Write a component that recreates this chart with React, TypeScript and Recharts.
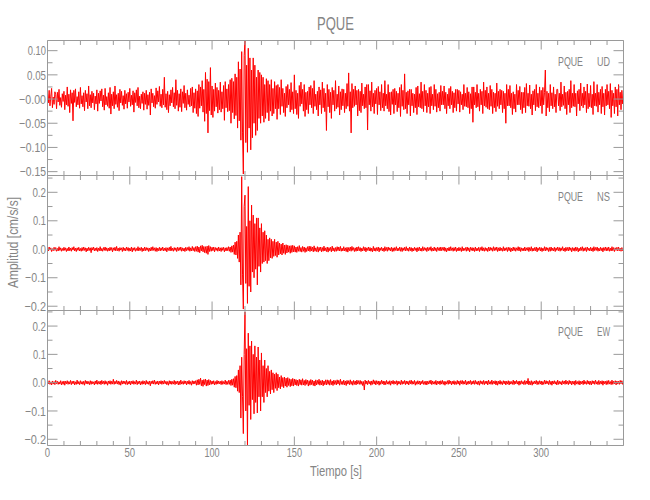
import { LineChart, Line, XAxis, YAxis } from 'recharts';

// Acceleration, one sample every 0.5 s from t = 0 to t = 350 s (cm/s/s)
const SAMPLE_STEP = 0.5;

const UD = [
  .012, -.008, .018, -.014, .006, .022, -.018, .004, -.011, .015, .009, -.02, .014, -.006, .02, -.013, .003, -.017, .011, -.005,
  .016, -.022, .008, -.012, .025, -.015, .01, -.028, .019, -.009, .013, -.045, .018, -.007, .021, -.016, .005, -.012, .015, -.019,
  .024, -.01, .007, -.016, .013, -.024, .018, -.006, .011, -.02, .027, -.014, .009, -.018, .016, -.008, .012, -.022, .006, -.01,
  .019, -.025, .012, -.009, .017, -.004, .021, -.016, .008, -.023, .022, -.012, .005, -.015, .013, -.019, .024, -.031, .01, -.014,
  .015, -.02, .027, -.011, .009, -.017, .012, -.024, .02, -.008, .016, -.013, .007, -.021, .018, -.01, .011, -.019, .014, -.006,
  .022, -.015, .008, -.012, .017, -.027, .013, -.007, .019, -.014, .024, -.018, .006, -.02, .01, -.009, .015, -.023, .012, -.011,
  .018, -.021, .009, -.013, .014, -.033, .021, -.008, .012, -.016, .007, -.019, .023, -.011, .017, -.006, .026, -.015, .01, -.018,
  .02, -.012, .045, -.017, .011, -.022, .016, -.028, .009, -.014, .019, -.008, .024, -.016, .013, -.02, .04, -.013, .018, -.025,
  .011, -.017, .021, -.026, .015, -.009, .028, -.018, .012, -.023, .019, -.011, .008, -.016, .022, -.014, .025, -.028, .013, -.019,
  .021, -.03, .017, -.036, .03, -.019, .025, -.014, .038, -.027, .02, -.046, .055, -.03, .041, -.07, .036, -.024, .065, -.033,
  .027, -.038, .02, -.025, .033, -.016, .024, -.029, .018, -.022, .035, -.027, .015, -.02, .028, -.044, .036, -.018, .021, -.026,
  .03, -.024, .04, -.05, .043, -.028, .036, -.041, .052, -.034, .045, -.06, .077, -.045, .062, -.085, .098, -.07, -.155, .09,
  .12, -.09, .07, -.11, .105, -.06, .085, -.105, .06, -.08, .085, -.05, .07, -.075, .045, -.065, .06, -.04, .055, -.05,
  .05, -.035, .045, -.048, .03, -.04, .042, -.028, .038, -.045, .03, -.025, .04, -.035, .022, -.03, .036, -.02, .028, -.042,
  .03, -.02, .024, -.032, .04, -.015, .022, -.028, .012, -.036, .026, -.018, .03, -.012, .02, -.027, .034, -.022, .015, -.03,
  .05, -.02, .018, -.032, .012, -.04, .028, -.015, .035, -.01, .02, -.025, .03, -.036, .014, -.022, .016, -.03, .025, -.012,
  .028, -.018, .022, -.03, .038, -.015, .01, -.022, .016, -.035, .025, -.012, .019, -.03, .035, -.018, .022, -.026, .012, -.065,
  .03, -.016, .02, -.028, .014, -.04, .024, -.012, .018, -.025, .038, -.02, .01, -.017, .027, -.033, .015, -.022, .021, -.014,
  .02, -.028, .012, -.02, .032, -.015, .054, -.025, .015, -.07, .032, -.018, .02, -.015, .027, -.012, .018, -.035, .02, -.024,
  .016, -.028, .033, -.014, .01, -.02, .025, -.018, .03, -.064, .03, -.012, .017, -.025, .035, -.016, .012, -.03, .018, -.01,
  .022, -.032, .026, -.012, .015, -.024, .03, -.018, .012, -.025, .038, -.014, .01, -.02, .03, -.026, .014, -.033, .015, -.011,
  .02, -.03, .022, -.012, .016, -.026, .012, -.018, .024, -.036, .03, -.015, .018, -.022, .052, -.02, .014, -.03, .017, -.012,
  .02, -.035, .02, -.014, .012, -.028, .01, -.018, .024, -.032, .027, -.016, .011, -.018, .035, -.02, .016, -.026, .03, -.014,
  .018, -.028, .012, -.016, .024, -.03, .026, -.014, .01, -.022, .03, -.015, .02, -.027, .011, -.018, .014, -.025, .028, -.012,
  .016, -.012, .027, -.02, .014, -.03, .01, -.014, .022, -.02, .026, -.012, .016, -.028, .013, -.018, .02, -.025, .02, -.01,
  .018, -.027, .015, -.012, .01, -.022, .03, -.015, .012, -.016, .024, -.018, .015, -.03, .011, -.02, .025, -.048, .025, -.012,
  .014, -.018, .03, -.016, .012, -.025, .02, -.012, .016, -.03, .035, -.014, .018, -.017, .025, -.02, .012, -.022, .028, -.015,
  .02, -.03, .014, -.018, .012, -.026, .033, -.015, .016, -.02, .02, -.012, .018, -.028, .016, -.02, .012, -.05, .03, -.014,
  .02, -.014, .028, -.018, .012, -.032, .015, -.02, .01, -.027, .03, -.012, .018, -.012, .026, -.022, .014, -.03, .014, -.018,
  .024, -.028, .032, -.014, .012, -.015, .029, -.02, .01, -.033, .017, -.012, .02, -.024, .03, -.016, .012, -.018, .025, -.014,
  .018, -.03, .024, -.012, .014, .06, -.035, .016, -.018, .012, -.026, .03, -.014, .013, -.02, .025, -.016, .01, -.028, .02,
  .02, -.014, .012, -.024, .035, -.016, .01, -.013, .027, -.02, .014, -.032, .016, -.012, .02, -.028, .038, -.018, .012, -.015,
  .03, -.016, .012, -.035, .017, -.01, .02, -.024, .033, -.014, .012, -.018, .025, -.012, .016, -.028, .031, -.02, .012, -.016,
  .028, -.018, .01, -.032, .036, -.014, .012, -.015, .03, -.027, .014, -.012, .02, -.03, .026, -.016, .012, -.033, .02, -.014,
  .03, -.012, .016, -.02, .032, -.038, .018, -.014, .012, -.03, .025, -.016, .02, -.035, .03, -.012, .014, -.022, .018, -.01,
  .015,
];

const NS = [
  .004, -.006, .008, -.003, .005, -.008, .002, -.005, .007, -.004, .006, -.007, .003, -.006, .009, -.004, .005, -.007, .003, -.005,
  .007, -.004, .005, -.008, .003, -.006, .008, -.005, .004, -.007, .006, -.003, .009, -.006, .004, -.008, .005, -.004, .007, -.006,
  .003, -.007, .006, -.005, .008, -.004, .005, -.009, .004, -.006, .007, -.004, .005, -.012, .006, -.003, .008, -.006, .004, -.005,
  .006, -.008, .004, -.005, .009, -.006, .003, -.007, .006, -.004, .008, -.005, .005, -.007, .004, -.006, .007, -.004, .006, -.009,
  .005, -.004, .007, -.006, .01, -.005, .004, -.007, .006, -.003, .005, -.008, .007, -.005, .004, -.006, .008, -.004, .006, -.007,
  .004, -.006, .008, -.009, .005, -.004, .006, -.007, .003, -.005, .009, -.006, .005, -.004, .007, -.008, .004, -.006, .008, -.005,
  .006, -.004, .005, -.008, .004, -.006, .007, -.005, .009, -.004, .005, -.007, .006, -.008, .004, -.005, .007, -.006, .005, -.004,
  .008, -.006, .004, -.005, .006, -.009, .005, -.004, .007, -.006, .01, -.005, .004, -.007, .006, -.004, .005, -.008, .007, -.005,
  .006, -.004, .008, -.007, .005, -.006, .004, -.008, .007, -.005, .006, -.004, .009, -.007, .005, -.006, .01, -.005, .006, -.008,
  .009, -.007, .011, -.01, .008, -.012, .012, -.006, .014, -.009, .01, -.012, .009, -.014, .011, -.018, .013, -.008, .009, -.007,
  .007, -.005, .008, -.009, .006, -.004, .005, -.007, .008, -.006, .005, -.008, .006, -.004, .007, -.009, .005, -.006, .006, -.005,
  .009, -.007, .008, -.011, .012, -.01, .015, -.018, .025, -.02, .028, -.032, .05, -.045, .06, -.125, .255, -.09, -.21, .15,
  .19, -.12, .08, -.19, .22, -.13, .1, -.15, .155, -.08, .12, -.1, .09, -.07, .11, -.125, .11, -.06, .075, -.08,
  .09, -.05, .06, -.045, .065, -.04, .05, -.05, .035, -.04, .04, -.03, .035, -.032, .028, -.025, .035, -.022, .025, -.028,
  .028, -.02, .022, -.016, .018, -.02, .022, -.014, .015, -.018, .016, -.013, .014, -.01, .012, -.014, .013, -.011, .014, -.009,
  .012, -.01, .008, -.011, .009, -.007, .013, -.008, .006, -.01, .01, -.007, .008, -.011, .005, -.008, .009, -.006, .011, -.008,
  .01, -.006, .008, -.009, .012, -.007, .005, -.008, .009, -.01, .007, -.005, .008, -.009, .006, -.007, .011, -.006, .005, -.008,
  .008, -.01, .006, -.005, .007, -.009, .011, -.006, .005, -.008, .006, -.007, .009, -.005, .008, -.006, .01, -.007, .004, -.006,
  .009, -.006, .005, -.008, .007, -.01, .006, -.005, .008, -.007, .01, -.004, .006, -.008, .005, -.007, .008, -.006, .009, -.005,
  .006, -.008, .004, -.006, .009, -.005, .007, -.009, .005, -.004, .008, -.006, .006, -.007, .004, -.009, .01, -.006, .005, -.007,
  .006, -.005, .008, -.009, .005, -.004, .007, -.006, .004, -.008, .009, -.005, .006, -.007, .008, -.004, .005, -.006, .007, -.008,
  .005, -.007, .006, -.004, .009, -.006, .004, -.005, .008, -.007, .006, -.008, .005, -.004, .007, -.006, .009, -.005, .004, -.007,
  .008, -.005, .006, -.008, .004, -.006, .007, -.004, .005, -.009, .006, -.005, .008, -.006, .004, -.007, .009, -.005, .006, -.004,
  .005, -.008, .007, -.005, .006, -.004, .009, -.007, .004, -.006, .008, -.005, .005, -.008, .007, -.004, .006, -.006, .008, -.005,
  .006, -.004, .008, -.007, .005, -.009, .004, -.005, .007, -.006, .009, -.004, .005, -.007, .006, -.005, .008, -.008, .004, -.006,
  .007, -.005, .005, -.008, .009, -.006, .004, -.004, .006, -.007, .008, -.005, .005, -.009, .007, -.004, .006, -.006, .005, -.008,
  .008, -.006, .004, -.005, .007, -.008, .006, -.004, .009, -.006, .005, -.007, .006, -.005, .004, -.008, .008, -.006, .007, -.004,
  .005, -.007, .009, -.005, .006, -.004, .008, -.008, .005, -.006, .007, -.005, .004, -.007, .009, -.006, .005, -.004, .006, -.008,
  .007, -.005, .006, -.009, .004, -.006, .008, -.005, .006, -.007, .005, -.004, .009, -.006, .007, -.008, .005, -.005, .004, -.006,
  .008, -.006, .005, -.004, .007, -.008, .006, -.005, .009, -.007, .004, -.006, .006, -.005, .008, -.009, .005, -.004, .007, -.006,
  .006, -.008, .004, -.005, .009, -.006, .007, -.004, .005, -.008, .006, -.007, .008, -.005, .004, -.006, .007, -.008, .005, -.004,
  .008, -.005, .006, -.007, .005, -.004, .009, -.006, .004, -.008, .007, -.005, .006, -.006, .008, -.004, .005, -.009, .006, -.005,
  .005, -.007, .008, -.005, .006, -.009, .004, -.006, .007, -.004, .009, -.007, .005, -.005, .006, -.008, .008, -.004, .004, -.006,
  .007, -.006, .005, -.008, .009, -.005, .006, -.004, .008, -.007, .004, -.006, .007, -.005, .005, -.009, .006, -.004, .008, -.006,
  .006, -.005, .008, -.007, .004, -.006, .009, -.005, .006, -.008, .005, -.004, .007, -.006, .008, -.005, .004, -.007, .006, -.005,
  .005,
];

const EW = [
  .005, -.004, .007, -.006, .003, -.008, .006, -.005, .004, -.007, .008, -.004, .005, -.006, .003, -.005, .007, -.008, .004, -.006,
  .006, -.009, .005, -.004, .007, -.006, .004, -.005, .008, -.007, .005, -.004, .006, -.008, .003, -.006, .009, -.005, .004, -.007,
  .007, -.005, .004, -.006, .005, -.009, .008, -.004, .006, -.005, .004, -.007, .007, -.006, .005, -.004, .003, -.008, .006, -.005,
  .009, -.006, .004, -.005, .006, -.007, .008, -.004, .005, -.006, .007, -.005, .004, -.009, .006, -.004, .007, -.006, .005, -.005,
  .012, -.006, .005, -.004, .008, -.005, .006, -.007, .004, -.009, .007, -.005, .006, -.004, .005, -.006, .008, -.007, .004, -.005,
  .006, -.008, .005, -.004, .007, -.006, .004, -.005, .009, -.007, .005, -.004, .006, -.008, .004, -.006, .007, -.005, .005, -.007,
  .008, -.005, .004, -.006, .006, -.011, .005, -.004, .007, -.005, .009, -.006, .004, -.005, .006, -.008, .005, -.004, .007, -.006,
  .006, -.005, .008, -.004, .005, -.007, .004, -.009, .007, -.005, .006, -.006, .004, -.005, .008, -.007, .005, -.004, .006, -.008,
  .005, -.007, .009, -.005, .004, -.006, .007, -.004, .006, -.008, .005, -.005, .008, -.006, .004, -.009, .007, -.005, .006, -.004,
  .007, -.009, .01, -.008, .012, -.006, .016, -.011, .009, -.013, .011, -.007, .013, -.012, .009, -.01, .011, -.008, .008, -.006,
  .006, -.005, .007, -.008, .004, -.006, .008, -.005, .006, -.004, .005, -.007, .007, -.006, .004, -.005, .009, -.007, .005, -.006,
  .008, -.006, .009, -.01, .012, -.009, .014, -.016, .022, -.018, .025, -.03, .045, -.035, .06, -.125, .09, -.05, -.18, .1,
  .25, -.1, .12, -.22, .175, -.08, .13, -.13, .147, -.06, .1, -.11, .13, -.07, .09, -.107, .126, -.05, .08, -.1,
  .105, -.05, .06, -.07, .08, -.035, .05, -.05, .06, -.03, .04, -.04, .045, -.025, .035, -.035, .03, -.02, .035, -.028,
  .03, -.018, .02, -.022, .025, -.014, .018, -.018, .02, -.012, .016, -.016, .018, -.01, .014, -.014, .012, -.011, .015, -.012,
  .013, -.008, .011, -.01, .009, -.012, .012, -.007, .01, -.009, .014, -.008, .008, -.01, .011, -.006, .009, -.012, .007, -.009,
  .011, -.007, .009, -.01, .006, -.012, .01, -.008, .008, -.006, .012, -.009, .007, -.008, .009, -.011, .006, -.007, .01, -.008,
  .01, -.006, .008, -.009, .011, -.007, .006, -.01, .009, -.006, .007, -.008, .01, -.005, .008, -.009, .012, -.006, .005, -.007,
  .009, -.008, .006, -.01, .008, -.005, .007, -.007, .01, -.006, .005, -.009, .008, -.006, .006, -.008, .009, -.005, .007, -.006,
  .008, -.006, .005, -.01, .004, -.026, .009, -.005, .006, -.007, .008, -.004, .005, -.009, .006, -.006, .01, -.005, .007, -.008,
  .007, -.005, .006, -.009, .005, -.006, .009, -.004, .006, -.008, .005, -.007, .008, -.005, .004, -.006, .007, -.009, .006, -.004,
  .008, -.006, .005, -.004, .007, -.009, .006, -.005, .004, -.007, .009, -.006, .005, -.004, .008, -.007, .006, -.005, .005, -.008,
  .007, -.004, .009, -.006, .005, -.005, .008, -.009, .004, -.006, .007, -.005, .006, -.008, .005, -.004, .008, -.006, .004, -.007,
  .006, -.008, .005, -.005, .007, -.004, .009, -.007, .006, -.005, .004, -.006, .008, -.008, .005, -.004, .006, -.007, .007, -.005,
  .008, -.006, .005, -.009, .004, -.005, .007, -.006, .009, -.004, .006, -.008, .005, -.005, .007, -.007, .004, -.006, .008, -.005,
  .006, -.009, .007, -.004, .008, -.006, .005, -.005, .009, -.008, .004, -.006, .006, -.004, .008, -.007, .005, -.005, .007, -.006,
  .008, -.005, .004, -.007, .006, -.009, .007, -.004, .005, -.006, .008, -.007, .005, -.004, .006, -.008, .009, -.005, .004, -.006,
  .009, -.006, .005, -.004, .007, -.008, .006, -.009, .005, -.005, .008, -.006, .004, -.007, .007, -.004, .006, -.008, .005, -.005,
  .007, -.008, .005, -.005, .004, -.006, .009, -.007, .006, -.004, .008, -.005, .005, -.009, .006, -.006, .007, -.004, .004, -.007,
  .008, -.006, .006, -.005, .015, -.008, .005, -.007, .007, -.009, .004, -.005, .006, -.004, .008, -.007, .005, -.006, .007, -.005,
  .006, -.008, .004, -.006, .009, -.005, .007, -.004, .005, -.007, .008, -.006, .005, -.009, .006, -.004, .007, -.005, .004, -.008,
  .009, -.006, .005, -.005, .004, -.008, .007, -.004, .006, -.006, .009, -.005, .005, -.007, .008, -.004, .006, -.008, .005, -.005,
  .006, -.009, .008, -.005, .004, -.006, .007, -.008, .005, -.004, .006, -.007, .009, -.005, .004, -.006, .008, -.005, .006, -.007,
  .005, -.008, .007, -.004, .006, -.006, .009, -.005, .004, -.007, .008, -.006, .005, -.005, .007, -.009, .006, -.004, .005, -.007,
  .007, -.006, .008, -.005, .004, -.007, .009, -.006, .005, -.004, .007, -.008, .006, -.005, .005, -.006, .008, -.004, .007, -.006,
  .006,
];

const STATION = 'PQUE';
const COMPONENTS = ['UD', 'NS', 'EW'];

const X_TICKS = [0, 10, 20, 30, 40, 50, 60, 70, 80, 90, 100, 110, 120, 130, 140, 150, 160, 170, 180, 190, 200, 210, 220, 230, 240, 250, 260, 270, 280, 290, 300, 310, 320, 330, 340, 350];
const X_LABELS = [0, 50, 100, 150, 200, 250, 300];

const UD_TICKS = [-0.15, -0.125, -0.1, -0.075, -0.05, -0.025, 0, 0.025, 0.05, 0.075, 0.1];
const UD_MAJOR = [-0.15, -0.1, -0.05, 0, 0.05, 0.1];
const UD_LABELS = ['\u22120.15', '\u22120.10', '\u22120.05', '\u22120.00', '0.05', '0.10'];

const H_TICKS = [-0.2, -0.15, -0.1, -0.05, 0, 0.05, 0.1, 0.15, 0.2, 0.25];
const H_MAJOR = [-0.2, -0.1, 0, 0.1, 0.2];
const H_LABELS = ['\u22120.2', '\u22120.1', '0.0', '0.1', '0.2'];

const AXIS = '#9a9a9a';
const TEXT = '#858585';
const FONT = '"Liberation Sans", Arial, sans-serif';

// narrow, plotter-like lettering: squeeze each string to the width it has in the original
function textWidth(s: string) {
  let w = 0;
  for (const c of String(s)) w += c === '.' ? 3 : c === '\u2212' ? 8 : c === '1' ? 4.6 : 5.3;
  return w;
}

const rows = UD.map((v, i) => ({ t: i * SAMPLE_STEP, ud: v, ns: NS[i], ew: EW[i] }));

const panels = [
  { key: 'ud', top: 30, height: 156, mb: 9.5, domain: [-0.158, 0.121], ticks: UD_TICKS, majors: UD_MAJOR, labels: UD_LABELS },
  { key: 'ns', top: 165, height: 156, mb: 9.5, domain: [-0.215, 0.259], ticks: H_TICKS, majors: H_MAJOR, labels: H_LABELS },
  { key: 'ew', top: 300, height: 200, mb: 53.5, domain: [-0.222, 0.255], ticks: H_TICKS, majors: H_MAJOR, labels: H_LABELS },
];

function XTick(props: any) {
  const { x, y, payload, edge, showLabels } = props;
  const major = payload.value % 50 === 0;
  const len = major ? 9 : 4.5;
  const dir = edge === 'bottom' ? -1 : 1;
  const label = String(payload.value);
  return (
    <g>
      <line x1={x} y1={y} x2={x} y2={y + dir * len} stroke={AXIS} />
      {showLabels && X_LABELS.includes(payload.value) && (
        <text x={x} y={y + 11.5} textAnchor="middle" fill={TEXT} fontSize={13} fontFamily={FONT}
          textLength={textWidth(label)} lengthAdjust="spacingAndGlyphs">
          {label}
        </text>
      )}
    </g>
  );
}

function YTick(props: any) {
  const { x, y, payload, edge, majors, labels } = props;
  const idx = majors.findIndex((m: number) => Math.abs(m - payload.value) < 1e-9);
  const len = idx >= 0 ? 10 : 5;
  const dir = edge === 'left' ? 1 : -1;
  return (
    <g>
      <line x1={x} y1={y} x2={x + dir * len} y2={y} stroke={AXIS} />
      {edge === 'left' && idx >= 0 && (
        <text x={x - 1.5} y={y} dy="0.36em" textAnchor="end" fill={TEXT} fontSize={13} fontFamily={FONT}
          textLength={textWidth(labels[idx])} lengthAdjust="spacingAndGlyphs">
          {labels[idx]}
        </text>
      )}
    </g>
  );
}

function Panel({ p, last }: { p: any; last: boolean }) {
  return (
    <div style={{ position: 'absolute', left: 0, top: p.top, width: 650, height: p.height }}>
      <LineChart width={650} height={p.height} data={rows} margin={{ top: 9.5, right: 25.5, bottom: p.mb, left: 46.5 }}>
        <XAxis xAxisId="b" dataKey="t" type="number" domain={[0, 350]} ticks={X_TICKS} interval={0}
          orientation="bottom" height={1} tickSize={0} tickMargin={0} tickLine={false}
          axisLine={{ stroke: AXIS }} allowDataOverflow
          tick={(tp: any) => <XTick {...tp} edge="bottom" showLabels={last} />} />
        <XAxis xAxisId="t" dataKey="t" type="number" domain={[0, 350]} ticks={X_TICKS} interval={0}
          orientation="top" height={1} tickSize={0} tickMargin={0} tickLine={false}
          axisLine={{ stroke: AXIS }} allowDataOverflow
          tick={(tp: any) => <XTick {...tp} edge="top" showLabels={false} />} />
        <YAxis yAxisId="l" type="number" domain={p.domain} ticks={p.ticks} interval={0}
          orientation="left" width={1} tickSize={0} tickMargin={0} tickLine={false}
          axisLine={{ stroke: AXIS }} allowDataOverflow
          tick={(tp: any) => <YTick {...tp} edge="left" majors={p.majors} labels={p.labels} />} />
        <YAxis yAxisId="r" type="number" domain={p.domain} ticks={p.ticks} interval={0}
          orientation="right" width={1} tickSize={0} tickMargin={0} tickLine={false}
          axisLine={{ stroke: AXIS }} allowDataOverflow
          tick={(tp: any) => <YTick {...tp} edge="right" majors={p.majors} labels={p.labels} />} />
        <Line xAxisId="b" yAxisId="l" dataKey={p.key} stroke="#ff0000" strokeWidth={1}
          dot={false} activeDot={false} isAnimationActive={false} />
      </LineChart>
    </div>
  );
}

export default function App() {
  return (
    <div style={{ position: 'absolute', left: 0, top: 0, width: 650, height: 500, background: '#fff' }}>
      {panels.map((p, i) => (
        <Panel key={p.key} p={p} last={i === panels.length - 1} />
      ))}
      <svg width={650} height={500} style={{ position: 'absolute', left: 0, top: 0, pointerEvents: 'none' }}
        fontFamily={FONT} fill={TEXT}>
        <text x={335.5} y={30} textAnchor="middle" fontSize={18} textLength={37} lengthAdjust="spacingAndGlyphs">{STATION}</text>
        {panels.map((p, i) => (
          <g key={p.key}>
            <text x={583} y={p.top + 36} textAnchor="end" fontSize={13} textLength={25} lengthAdjust="spacingAndGlyphs">{STATION}</text>
            <text x={610} y={p.top + 36} textAnchor="end" fontSize={13} textLength={13} lengthAdjust="spacingAndGlyphs">{COMPONENTS[i]}</text>
          </g>
        ))}
        <text x={336} y={476} textAnchor="middle" fontSize={14} textLength={52} lengthAdjust="spacingAndGlyphs">Tiempo  [s]</text>
        <text transform="translate(18,242.5) rotate(-90)" textAnchor="middle" fontSize={14} textLength={91} lengthAdjust="spacingAndGlyphs">Amplitud  [cm/s/s]</text>
      </svg>
    </div>
  );
}
